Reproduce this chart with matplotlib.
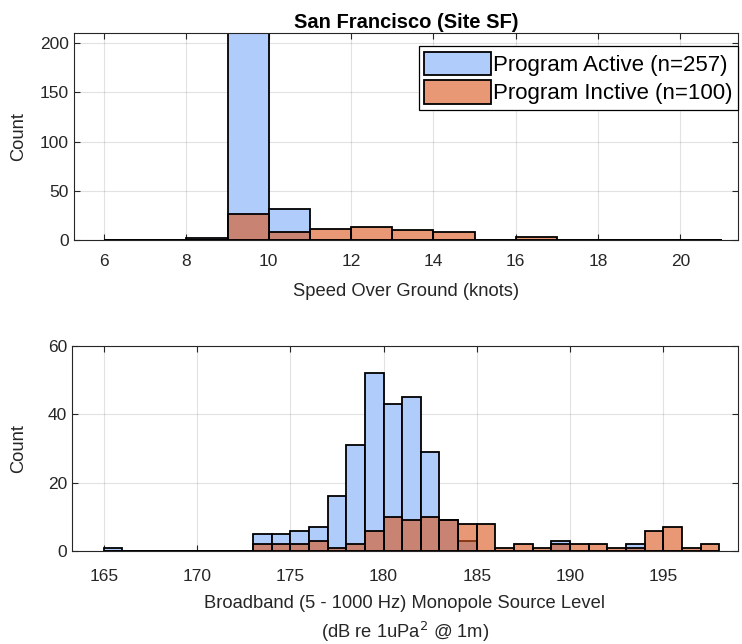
import numpy as np
import matplotlib
matplotlib.use("Agg")
import matplotlib.pyplot as plt
from matplotlib.patches import Patch

plt.rcParams['font.family'] = ['Liberation Sans', 'DejaVu Sans']

# ---- data ----
speed_edges = np.arange(6, 22, 1)  # 6..21
speed_active = [0, 0, 2, 223, 32, 0, 0, 0, 0, 0, 0, 0, 0, 0, 0]
speed_inactive = [0, 0, 0, 26, 8, 11, 13, 10, 8, 0, 3, 0, 0, 0, 0]

sl_edges = np.arange(165, 199, 1)  # 165..198
sl_active = [1, 0, 0, 0, 0, 0, 0, 0, 5, 5, 6, 7, 16, 31, 52, 43, 45, 29, 9, 3,
             0, 0, 0, 0, 3, 0, 0, 0, 2, 0, 0, 0, 0]
sl_inactive = [0, 0, 0, 0, 0, 0, 0, 0, 2, 2, 2, 3, 1, 2, 6, 10, 9, 10, 9, 8,
               8, 1, 2, 1, 2, 2, 2, 1, 1, 6, 7, 1, 2]

labels = ['Program Active (n=257)', 'Program Inctive (n=100)']
title = 'San Francisco (Site SF)'

blue = (0.686, 0.800, 0.980)
orange = (0.85, 0.325, 0.098)
axcol = (0.15, 0.15, 0.15)

fig = plt.figure(figsize=(7.42, 6.44), dpi=100)
ax1 = fig.add_axes([0.0997, 0.6273, 0.8949, 0.3210])
ax2 = fig.add_axes([0.0970, 0.1444, 0.8976, 0.3183])


def style(ax, xpad):
    ax.grid(True, color=(0.15, 0.15, 0.15), alpha=0.13, linewidth=0.8)
    ax.set_axisbelow(True)
    for s in ax.spines.values():
        s.set_color(axcol)
        s.set_linewidth(0.8)
    ax.tick_params(direction='in', length=4, width=0.8, colors=axcol,
                   labelsize=12.5, top=True, right=True, labelcolor=axcol)
    ax.tick_params(axis='x', pad=xpad)


def hist(ax, edges, a, b):
    lefts = edges[:-1]
    ax.bar(lefts, a, width=1, align='edge', color=blue,
           edgecolor='black', linewidth=1.3, zorder=2)
    ax.bar(lefts, b, width=1, align='edge', color=orange, alpha=0.6,
           edgecolor='none', linewidth=0, zorder=3)
    ax.bar(lefts, b, width=1, align='edge', facecolor='none',
           edgecolor='black', linewidth=1.3, zorder=4)


hist(ax1, speed_edges, speed_active, speed_inactive)
style(ax1, 10)
ax1.set_xlim(5.27, 21.4)
ax1.set_ylim(0, 210)
ax1.set_xticks(np.arange(6, 21, 2))
ax1.set_yticks([0, 50, 100, 150, 200])
ax1.set_xlabel('Speed Over Ground (knots)', fontsize=13.2, color=axcol, labelpad=10)
ax1.set_ylabel('Count', fontsize=13.2, color=axcol)
ax1.set_title(title, fontsize=14.5, fontweight='bold', color='black', pad=4)

h1 = Patch(facecolor=blue, edgecolor='black', linewidth=1.3)
h2 = Patch(facecolor=(0.91, 0.595, 0.46), edgecolor='black', linewidth=1.3)
leg = ax1.legend([h1, h2], labels, loc='upper right', fontsize=16,
                 bbox_to_anchor=(738 / 742, 1 - 46 / 644),
                 bbox_transform=fig.transFigure,
                 frameon=True, fancybox=False, edgecolor='black',
                 handlelength=3.0, handleheight=1.25, handletextpad=0.1,
                 borderpad=0.25, labelspacing=0.2, borderaxespad=0,
                 framealpha=1)
leg.get_frame().set_linewidth(0.9)

hist(ax2, sl_edges, sl_active, sl_inactive)
style(ax2, 13)
ax2.set_xlim(163.3, 199)
ax2.set_ylim(0, 60)
ax2.set_xticks(np.arange(165, 196, 5))
ax2.set_yticks([0, 20, 40, 60])
ax2.set_xlabel('Broadband (5 - 1000 Hz) Monopole Source Level\n(dB re 1uPa$^2$ @ 1m)',
               fontsize=13.2, color=axcol, linespacing=1.4, labelpad=8)
ax2.set_ylabel('Count', fontsize=13.2, color=axcol)

# align both y labels at the same figure x position
for ax in (ax1, ax2):
    bb = ax.get_position()
    xfig = 27 / 742
    ax.yaxis.set_label_coords((xfig - bb.x0) / bb.width, 0.5)

fig.savefig('out.png', dpi=100)
